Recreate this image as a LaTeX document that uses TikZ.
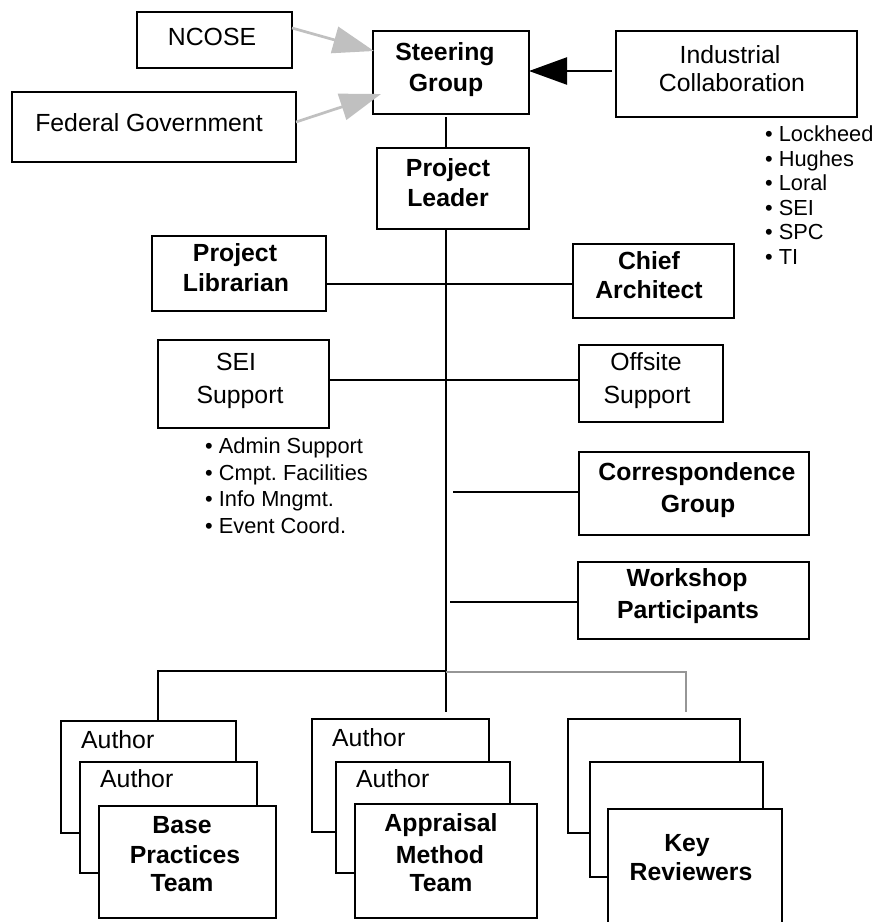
\documentclass[tikz,border=0pt]{standalone}
\usepackage{fontspec}
\setmainfont{Liberation Sans}
\usetikzlibrary{arrows.meta}
\definecolor{arrowgray}{RGB}{192,192,192}
\definecolor{linegray}{RGB}{150,150,150}
\newcommand\mkbox[5]{\node[box, minimum width={#4-#2}, minimum height={#5-#3}] (#1) at ({(#2+#4)/2},{(#3+#5)/2}) {};}
\begin{document}
\begin{tikzpicture}[x=1pt,y=-1pt,
  box/.style={draw, line width=2.9pt, fill=white, inner sep=0pt, outer sep=0pt},
  ln/.style={line width=2.5pt},
  glin/.style={line width=2.5pt, draw=linegray},
  garrow/.style={line width=2.7pt, draw=arrowgray, fill=arrowgray, -{Triangle[length=41pt,width=27pt]}},
  barrow/.style={line width=2.4pt, -{Triangle[length=38pt,width=27pt]}},
  tn/.style={inner sep=0pt, text height=17.76pt, text depth=0pt, font=\fontsize{24.8}{28}\selectfont},
  tb/.style={inner sep=0pt, text height=17.76pt, text depth=0pt, font=\fontsize{24.8}{28}\selectfont\bfseries},
  bl/.style={inner sep=0pt, anchor=west, text height=15.6pt, text depth=0pt, font=\fontsize{21.8}{24}\selectfont}
]
\useasboundingbox (0,0) rectangle (880,922);
\fill[white] (0,0) rectangle (880,922);

% boxes
\mkbox{nc}{137}{12}{292}{68}
\mkbox{fg}{12}{92}{296}{162}
\mkbox{sg}{373}{31}{529}{114}
\mkbox{ic}{616}{31}{857}{117}
\mkbox{ld}{377}{148}{529}{229}
\mkbox{lb}{152}{236}{326}{311}
\mkbox{ca}{573}{244}{734}{318}
\mkbox{se}{158}{340}{329}{428}
\mkbox{of}{579}{345}{723}{422}
\mkbox{cg}{579}{452}{809}{535}
\mkbox{wp}{578}{562}{809}{639}
% stacks
\mkbox{bpA}{61}{721}{236}{833}
\mkbox{bpB}{80}{762}{257}{873}
\mkbox{bpC}{99}{806}{276}{918}
\mkbox{amA}{312}{719}{489}{832}
\mkbox{amB}{336}{762}{510}{873}
\mkbox{amC}{355}{804}{537}{918}
\mkbox{krA}{568}{719}{740}{833}
\mkbox{krB}{590}{762}{763}{877}
\mkbox{krC}{608}{809}{782}{945}

% texts
\node[tn] (ncT) at (212,37) {NCOSE};
\node[tn] (fgT) at (149,123) {Federal Government};
\node[tn] (icT1) at (730,55) {Industrial};
\node[tn] (icT2) at (732,83) {Collaboration};
\node[tn] (seT1) at (236,362) {SEI};
\node[tn] (seT2) at (240,395) {Support};
\node[tn] (ofT1) at (646,362) {Offsite};
\node[tn] (ofT2) at (647,395) {Support};
\node[tn, anchor=west] (bpA1) at (81,740) {Author};
\node[tn, anchor=west] (bpB1) at (100,779) {Author};
\node[tn, anchor=west] (amA1) at (332,738) {Author};
\node[tn, anchor=west] (amB1) at (356,779) {Author};

\node[tb] (sgT1) at (445,52) {Steering};
\node[tb] (sgT2) at (446,83) {Group};
\node[tb] (ldT1) at (448,168) {Project};
\node[tb] (ldT2) at (448,198) {Leader};
\node[tb] (lbT1) at (235,253) {Project};
\node[tb] (lbT2) at (236,283) {Librarian};
\node[tb] (caT1) at (649,261) {Chief};
\node[tb] (caT2) at (649,290) {Architect};
\node[tb] (cgT1) at (697,472) {Correspondence};
\node[tb] (cgT2) at (698,504) {Group};
\node[tb] (wpT1) at (687,578) {Workshop};
\node[tb] (wpT2) at (688,610) {Participants};
\node[tb] (bpT1) at (182,825) {Base};
\node[tb] (bpT2) at (185,855) {Practices};
\node[tb] (bpT3) at (182,883) {Team};
\node[tb] (amT1) at (441,823) {Appraisal};
\node[tb] (amT2) at (440,855) {Method};
\node[tb] (amT3) at (441,883) {Team};
\node[tb] (krT1) at (687,843) {Key};
\node[tb] (krT2) at (691,872) {Reviewers};

% bullets
\node[bl] (i1) at (765,134) {• Lockheed};
\node[bl] (i2) at (765,159) {• Hughes};
\node[bl] (i3) at (765,183) {• Loral};
\node[bl] (i4) at (765,208) {• SEI};
\node[bl] (i5) at (765,232) {• SPC};
\node[bl] (i6) at (765,257) {• TI};
\node[bl] (s1) at (205,446) {• Admin Support};
\node[bl] (s2) at (205,473) {• Cmpt.\ Facilities};
\node[bl] (s3) at (205,499) {• Info Mngmt.};
\node[bl] (s4) at (205,526) {• Event Coord.};

% connector coordinates
\coordinate (tx) at (446,0);
\coordinate (sgb) at (446,117);
\coordinate (trEnd) at (446,712);
\coordinate (y284) at (0,284);
\coordinate (y380) at (0,380);
\coordinate (cgs) at (453,492);
\coordinate (wps) at (450,602);
\coordinate (hb) at (446,671);
\coordinate (hl) at (158,671);
\coordinate (hg) at (446,672);
\coordinate (rg) at (686,672);
\coordinate (rgEnd) at (686,712);
\coordinate (ar) at (0,71);
\coordinate (tip1) at (374,51);
\coordinate (tip2) at (381,94);

% connectors
\draw[ln] (sgb) -- (ld.north -| tx);
\draw[ln] (ld.south -| tx) -- (trEnd);
\draw[ln] (lb.east |- y284) -- (ca.west |- y284);
\draw[ln] (se.east |- y380) -- (of.west |- y380);
\draw[ln] (cgs) -- (cgs -| cg.west);
\draw[ln] (wps) -- (wps -| wp.west);
\draw[glin] (hg) -- (rg) -- (rgEnd);
\draw[ln] (hb) -- (hl) -- (hl |- bpA.north);

% arrows
\draw[barrow, shorten <=4pt] (ic.west |- ar) -- (sg.east |- ar);
\draw[garrow] ([yshift=12pt]nc.east) -- (tip1);
\draw[garrow] ([yshift=5pt]fg.east) -- (tip2);
\end{tikzpicture}
\end{document}
